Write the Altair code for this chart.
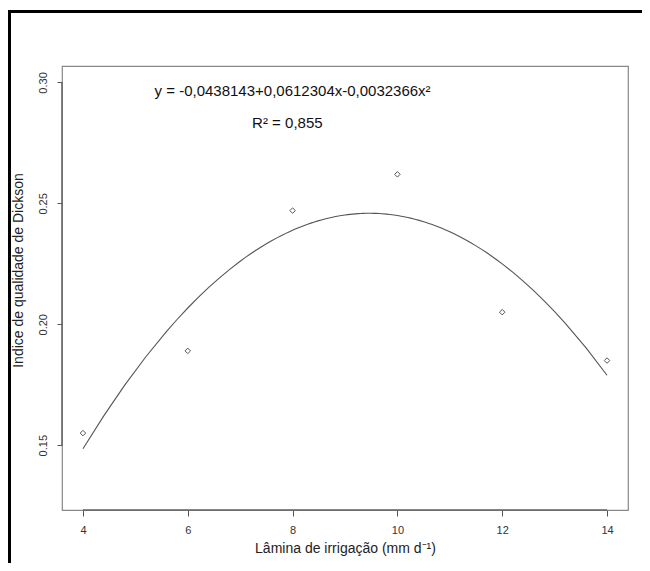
import altair as alt
import pandas as pd

# Data
lamina = [4, 6, 8, 10, 12, 14]
idq = [0.155, 0.189, 0.247, 0.262, 0.205, 0.185]

x_ticks = [4, 6, 8, 10, 12, 14]
y_ticks = [0.15, 0.20, 0.25, 0.30]

eq_labels = ["y = -0,0438143+0,0612304x-0,0032366x²", "R² = 0,855"]
eq_x = [8.0, 7.9]
eq_y = [0.2964, 0.2832]

pts = pd.DataFrame({"x": lamina, "y": idq})
ann = pd.DataFrame({"label": eq_labels, "x": eq_x, "y": eq_y})
xax = pd.DataFrame({"x": [min(x_ticks)], "x2": [max(x_ticks)]})
yax = pd.DataFrame({"y": [min(y_ticks)], "y2": [max(y_ticks)]})

W, H = 566, 444
xs = alt.Scale(domain=[3.6, 14.4], nice=False, zero=False)
ys = alt.Scale(domain=[0.1232, 0.3068], nice=False, zero=False)

FONT = "Liberation Sans"

x_enc = alt.X("x:Q", scale=xs, axis=alt.Axis(
    values=x_ticks, title="Lâmina de irrigação (mm d⁻¹)", grid=False, domain=False,
    tickSize=6, tickColor="#555555", labelFontSize=11, labelColor="#333333",
    labelPadding=8, labelFont=FONT, titleFont=FONT, titleFontSize=14,
    titleFontWeight="normal", titleColor="#222222", titlePadding=6))
y_enc = alt.Y("y:Q", scale=ys, axis=alt.Axis(
    values=y_ticks, format=".2f", title="Indice de qualidade de Dickson", grid=False,
    domain=False, tickSize=5, tickColor="#555555", labelFontSize=11,
    labelColor="#333333", labelAngle=270, labelAlign="center", labelBaseline="bottom",
    labelPadding=9, labelFont=FONT, titleFont=FONT, titleFontSize=14,
    titleFontWeight="normal", titleColor="#222222", titleX=-44, titleY=204,
    titleBaseline="middle", titleAngle=270))

points = alt.Chart(pts).mark_point(shape="diamond", filled=False, size=30,
                                   color="#555555", strokeWidth=1, opacity=1).encode(
    x=x_enc, y=y_enc)

curve = alt.Chart(pts).transform_regression(
    "x", "y", method="poly", order=2, extent=[4, 14]
).mark_line(color="#555555", strokeWidth=1.1).encode(x="x:Q", y="y:Q")

text = alt.Chart(ann).mark_text(font=FONT, fontSize=15, color="#111111",
                                align="center", baseline="middle").encode(
    x="x:Q", y="y:Q", text="label:N")

x_line = alt.Chart(xax).mark_rule(color="#666666", strokeWidth=1.5).encode(
    x="x:Q", x2="x2:Q", y=alt.value(H))
y_line = alt.Chart(yax).mark_rule(color="#666666", strokeWidth=1.5).encode(
    y="y:Q", y2="y2:Q", x=alt.value(0))

frame_left = alt.Chart(xax).mark_rule(color="black", strokeWidth=3).encode(
    x=alt.value(-52.5), y=alt.value(-56), y2=alt.value(H + 80))
frame_top = alt.Chart(xax).mark_rule(color="black", strokeWidth=3).encode(
    x=alt.value(-54), x2=alt.value(W + 80), y=alt.value(-54.5))

chart = alt.layer(points, curve, text, x_line, y_line, frame_left, frame_top).properties(
    width=W, height=H,
    autosize=alt.AutoSizeParams(type="none"),
    padding={"left": 54, "top": 58, "right": 14, "bottom": 53},
    background="white",
).configure_view(stroke="#888888", strokeWidth=1.2)

chart.save("out.html", embed_options={"renderer": "svg", "actions": False})
